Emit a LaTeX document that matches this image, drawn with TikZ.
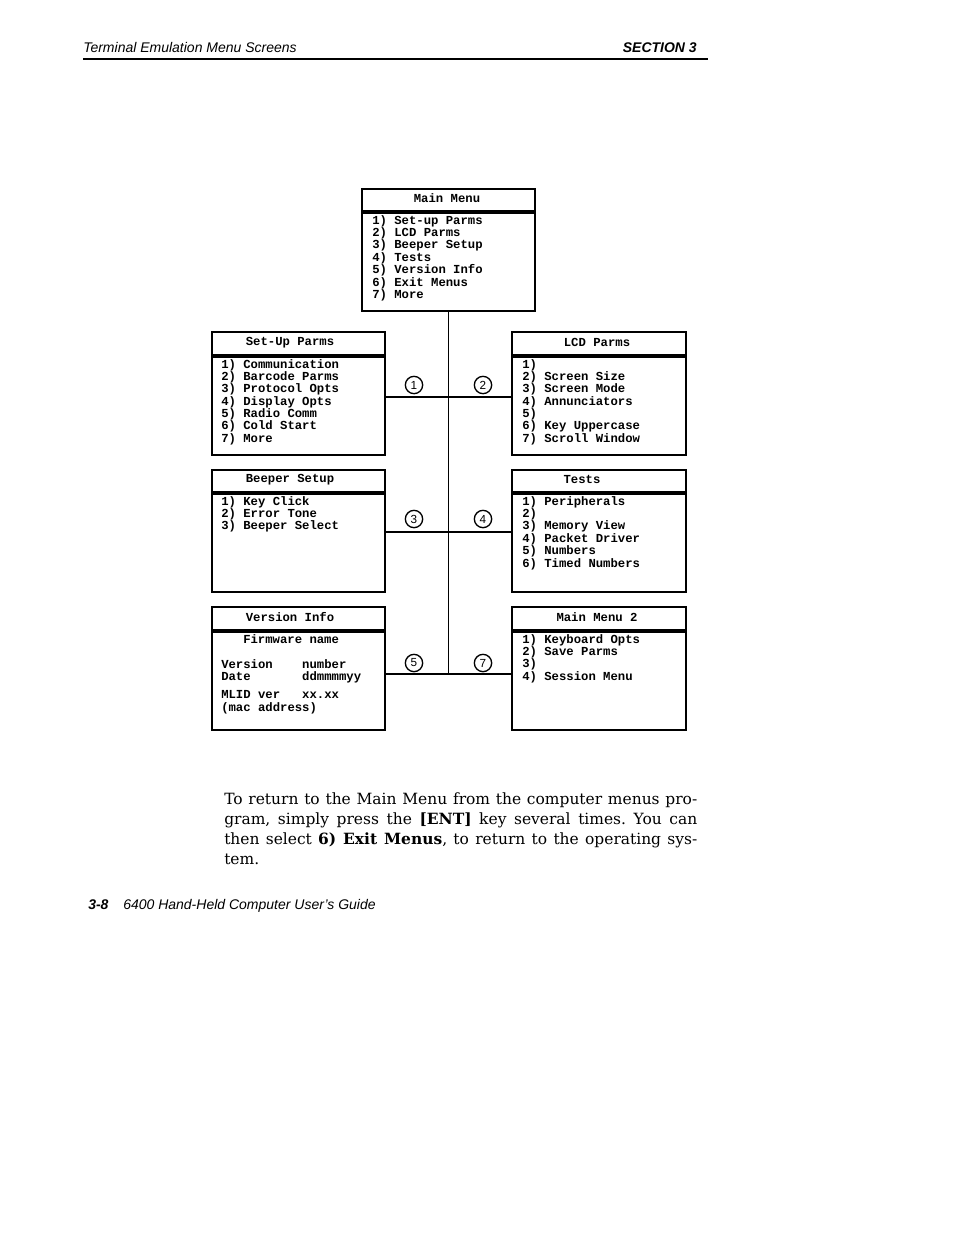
\documentclass[tikz,border=0pt]{standalone}
\usepackage{fontspec}
\setmainfont{DejaVu Serif}
\newfontfamily\monof{Liberation Mono}
\newfontfamily\hsans{Liberation Sans}
\frenchspacing
\begin{document}
\begin{tikzpicture}[x=0.75pt,y=-0.75pt,
  menubox/.style={draw, line width=1.5pt, inner sep=0, anchor=north west},
  sepline/.style={line width=2.3pt},
  conn/.style={line width=1.5pt},
  vconn/.style={line width=0.9pt},
  mtitle/.style={font=\monof\bfseries\fontsize{9.2}{9.3}\selectfont, anchor=base, inner sep=0},
  mtext/.style={font=\monof\bfseries\fontsize{9.2}{9.3}\selectfont, anchor=base west, inner sep=0},
  num/.style={circle, draw, line width=1pt, minimum size=13pt, inner sep=0, font=\hsans\fontsize{8.8}{8.8}\selectfont},
  body/.style={anchor=base west, inner sep=0, font=\fontsize{11.6}{15}\selectfont},
  hdr/.style={inner sep=0, font=\hsans\itshape\fontsize{10.5}{12}\selectfont}
]
\useasboundingbox (0,0) rectangle (954,1235);

% header
\node[hdr, anchor=base west] (hdrL) at (83,52) {Terminal Emulation Menu Screens};
\node[hdr, anchor=base east, font=\hsans\bfseries\itshape\fontsize{10.5}{12}\selectfont] (hdrR) at (697,52) {SECTION 3};
\draw[line width=1.5pt] (83,59) -- (708,59);

% boxes
\node[menubox, minimum width=129.75pt, minimum height=91.5pt] (main) at (361,188) {};
\node[menubox, minimum width=129.75pt, minimum height=92.25pt] (setup) at (211,331) {};
\node[menubox, minimum width=130.5pt, minimum height=92.25pt] (lcd) at (511,331) {};
\node[menubox, minimum width=129.75pt, minimum height=91.5pt] (beep) at (211,469) {};
\node[menubox, minimum width=130.5pt, minimum height=91.5pt] (tests) at (511,469) {};
\node[menubox, minimum width=129.75pt, minimum height=92.25pt] (vers) at (211,606) {};
\node[menubox, minimum width=130.5pt, minimum height=92.25pt] (mm2) at (511,606) {};

% separators
\draw[sepline] (main.west |- 0,212) -- (main.east |- 0,212);
\draw[sepline] (setup.west |- 0,356) -- (setup.east |- 0,356);
\draw[sepline] (lcd.west |- 0,356) -- (lcd.east |- 0,356);
\draw[sepline] (beep.west |- 0,493) -- (beep.east |- 0,493);
\draw[sepline] (tests.west |- 0,493) -- (tests.east |- 0,493);
\draw[sepline] (vers.west |- 0,631) -- (vers.east |- 0,631);
\draw[sepline] (mm2.west |- 0,631) -- (mm2.east |- 0,631);

% titles
\node[mtitle] (mainT) at (447,202) {Main Menu};
\node[mtitle] (setupT) at (290,345) {Set-Up Parms};
\node[mtitle] (lcdT) at (597,346) {LCD Parms};
\node[mtitle] (beepT) at (290,482) {Beeper Setup};
\node[mtitle] (testsT) at (582,483) {Tests};
\node[mtitle] (versT) at (290,621) {Version Info};
\node[mtitle] (mm2T) at (597,621) {Main Menu 2};

% item lists
\foreach \t [count=\i from 0] in {1) Set-up Parms,2) LCD Parms,3) Beeper Setup,4) Tests,5) Version Info,6) Exit Menus,7) More}
  \node[mtext] (mainL\i) at (372,{224+12.45*\i}) {\t};
\foreach \t [count=\i from 0] in {1) Communication,2) Barcode Parms,3) Protocol Opts,4) Display Opts,5) Radio Comm,6) Cold Start,7) More}
  \node[mtext] (setupL\i) at (221,{368+12.35*\i}) {\t};
\foreach \t [count=\i from 0] in {1),2) Screen Size,3) Screen Mode,4) Annunciators,5),6) Key Uppercase,7) Scroll Window}
  \node[mtext] (lcdL\i) at (522,{368+12.35*\i}) {\t};
\foreach \t [count=\i from 0] in {1) Key Click,2) Error Tone,3) Beeper Select}
  \node[mtext] (beepL\i) at (221,{505+12.4*\i}) {\t};
\foreach \t [count=\i from 0] in {1) Peripherals,2),3) Memory View,4) Packet Driver,5) Numbers,6) Timed Numbers}
  \node[mtext] (testsL\i) at (522,{505+12.4*\i}) {\t};
\foreach \t [count=\i from 0] in {1) Keyboard Opts,2) Save Parms,3),4) Session Menu}
  \node[mtext] (mm2L\i) at (522,{643+12.4*\i}) {\t};
\node[mtext] (versA) at (243,643) {Firmware name};
\node[mtext] (versB) at (221,668) {Version\ \ \ \ number};
\node[mtext] (versC) at (221,680) {Date\ \ \ \ \ \ \ ddmmmmyy};
\node[mtext] (versD) at (221,698) {MLID ver\ \ \ xx.xx};
\node[mtext] (versE) at (221,711) {(mac address)};

% connectors
\coordinate (jb) at (main.south |- 0,674);
\draw[vconn] (main.south) -- (jb);
\draw[conn] (setup.east |- 0,397) -- (lcd.west |- 0,397);
\draw[conn] (beep.east |- 0,532) -- (tests.west |- 0,532);
\draw[conn] (vers.east |- 0,674) -- (mm2.west |- 0,674);

% circled numbers
\node[num] (n1) at (414,385) {1};
\node[num] (n2) at (483,385) {2};
\node[num] (n3) at (414,519) {3};
\node[num] (n4) at (483,519) {4};
\node[num] (n5) at (414,663) {5};
\node[num] (n7) at (483,663) {7};

% body text
\node[body] (b1) at (224,804) {\makebox[354.75pt][s]{To return to the Main Menu from the computer menus pro-}};
\node[body] (b2) at (224,824) {\makebox[354.75pt][s]{gram, simply press the \textbf{[ENT]} key several times. You can}};
\node[body] (b3) at (224,844) {\makebox[354.75pt][s]{then select \textbf{6) Exit Menus}, to return to the operating sys-}};
\node[body] (b4) at (224,864) {tem.};

% footer
\node[hdr, anchor=base west, font=\hsans\bfseries\itshape\fontsize{10.5}{12}\selectfont] (ftA) at (88,909) {3-8};
\node[hdr, anchor=base west] (ftB) at (123,909) {6400 Hand-Held Computer User’s Guide};
\end{tikzpicture}
\end{document}
